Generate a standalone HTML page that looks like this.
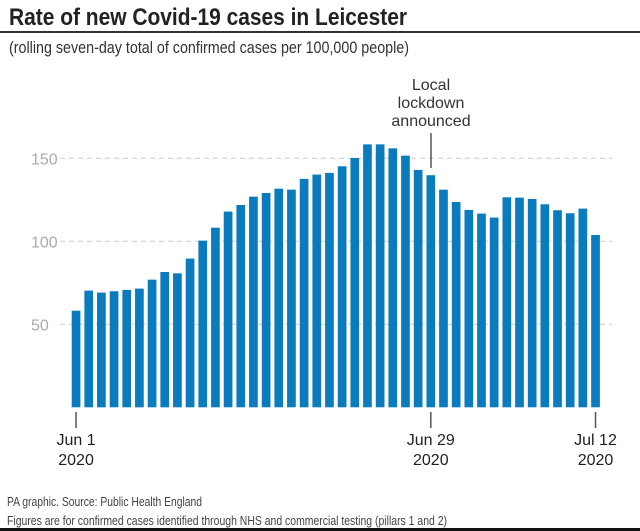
<!DOCTYPE html>
<html><head><meta charset="utf-8"><style>
html,body{margin:0;padding:0;background:#fff;}
body{width:640px;height:531px;overflow:hidden;position:relative;font-family:"Liberation Sans",sans-serif;color:#222;}
</style></head><body>
<svg width="640" height="531" viewBox="0 0 640 531" style="position:absolute;left:0;top:0">
<text x="9" y="25" font-size="24" font-weight="bold" fill="#222" textLength="398" lengthAdjust="spacingAndGlyphs">Rate of new Covid-19 cases in Leicester</text>
<rect x="0" y="31" width="640" height="2" fill="#333"/>
<text x="9" y="53" font-size="17" fill="#333" textLength="400" lengthAdjust="spacingAndGlyphs">(rolling seven-day total of confirmed cases per 100,000 people)</text>
<g id="grid"></g>
<g id="ylabels"></g>
<g id="bars"></g>
<g id="xaxis"></g>
<g>
<text x="431" y="90" font-size="16" text-anchor="middle" fill="#333">Local</text>
<text x="431" y="108" font-size="16" text-anchor="middle" fill="#333">lockdown</text>
<text x="431" y="126" font-size="16" text-anchor="middle" fill="#333">announced</text>
<line x1="431" y1="133" x2="431" y2="168" stroke="#555" stroke-width="1.5"/>
</g>
<text x="7" y="506" font-size="13" fill="#444" textLength="195" lengthAdjust="spacingAndGlyphs">PA graphic. Source: Public Health England</text>
<text x="7" y="525" font-size="13" fill="#444" textLength="440" lengthAdjust="spacingAndGlyphs">Figures are for confirmed cases identified through NHS and commercial testing (pillars 1 and 2)</text>
<rect x="0" y="528" width="640" height="3" fill="#111"/>
</svg>
<script>
const values=[58.2,70.3,69.1,69.9,70.7,71.5,76.9,81.5,80.7,89.6,100.4,108.2,117.9,121.9,126.9,129.1,131.7,131.1,137.6,140.2,141.2,145.2,150.2,158.4,158.4,156,151.6,143,139.8,131.1,123.7,118.9,116.7,114.3,126.5,126.3,125.5,122.3,118.7,116.9,119.7,103.8];
const yTicks=[50,100,150];
const xTickIdx=[0,28,41];
const xTickLabels=[["Jun 1","2020"],["Jun 29","2020"],["Jul 12","2020"]];
const NS="http://www.w3.org/2000/svg";
const y0=407.3, k=1.66, x0=71.7, pitch=12.67, bw=8.7;
const y=v=>y0-v*k, x=i=>x0+i*pitch;
function mk(t,a,p){const e=document.createElementNS(NS,t);for(const n in a)e.setAttribute(n,a[n]);p.appendChild(e);return e;}
const grid=document.getElementById('grid'),yl=document.getElementById('ylabels'),bars=document.getElementById('bars'),xa=document.getElementById('xaxis');
yTicks.forEach(v=>{
 const l=mk('line',{x1:60,x2:612,y1:y(v),y2:y(v),stroke:'#ccc','stroke-width':1,'stroke-dasharray':'5,4'},grid);
 
 
 const t=mk('text',{x:31,y:y(v)+6,'font-size':16,fill:'#aaa'},yl);t.textContent=v;
 
 
});
values.forEach((v,i)=>{
 const r=mk('rect',{x:x(i),y:y(v),width:bw,height:v*k,fill:'#0a7bbd'},bars);
 
 
});
xTickIdx.forEach((idx,j)=>{
 const cx=x(idx)+bw/2;
 const l=mk('line',{x1:cx,x2:cx,y1:412,y2:428,stroke:'#555','stroke-width':1.5},xa);
 
 
 xTickLabels[j].forEach((s,m)=>{
  const t=mk('text',{x:cx,y:445+m*20,'font-size':16,'text-anchor':'middle',fill:'#222'},xa);t.textContent=s;
  
  
 });
});
</script>
</body></html>
